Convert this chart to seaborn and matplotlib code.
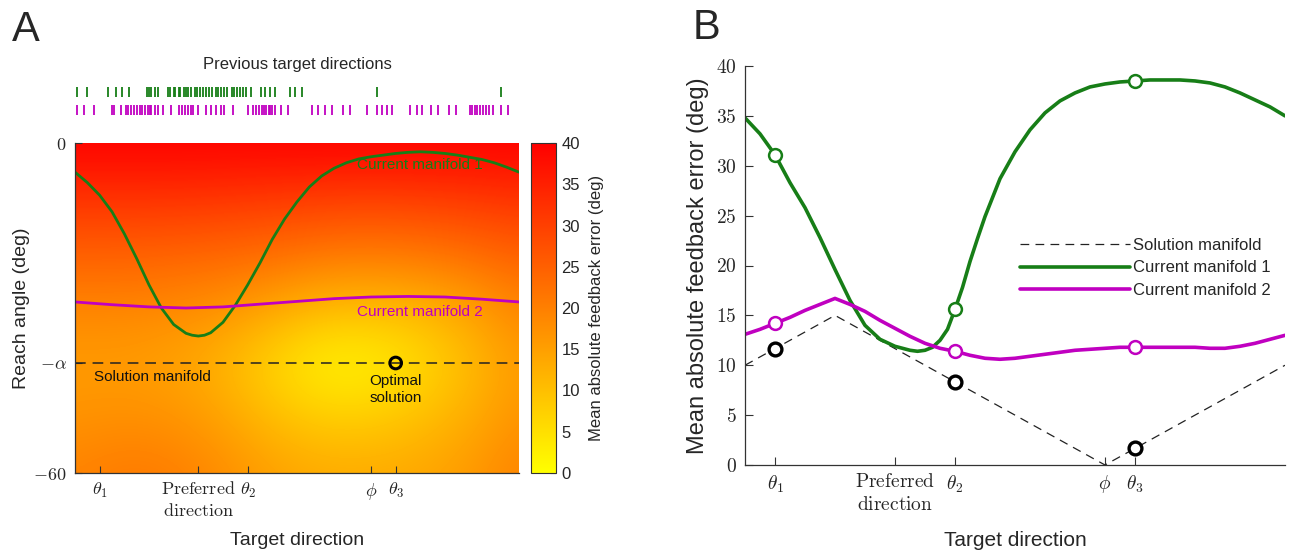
import numpy as np
import matplotlib
matplotlib.use("Agg")
import matplotlib.pyplot as plt
import seaborn as sns

# ---------------- data ----------------
# x tick positions (target direction, deg)
tick_dirs = [20, 100, 140, 240, 260]
theta1, preferred, theta2, phi, theta3 = tick_dirs
ALPHA = -40  # solution manifold reach angle

# previous target directions (raster)
prev_m1 = [2, 10, 27, 33, 38, 44, 58, 60, 62, 65, 67, 75, 77, 80, 81, 84, 85, 88, 90, 92,
           94, 97, 99, 101, 104, 106, 109, 111, 114, 116, 118, 121, 123, 127, 129, 131, 134,
           136, 139, 143, 151, 154, 158, 162, 174, 178, 184, 245, 345]
prev_m2 = [2, 7, 15, 30, 32, 37, 41, 43, 45, 48, 50, 53, 54, 57, 59, 61, 62, 65, 67, 71, 78,
           84, 87, 89, 92, 94, 96, 100, 106, 110, 114, 118, 121, 128, 140, 144, 147, 149, 152,
           153, 155, 157, 158, 160, 162, 167, 173, 192, 197, 203, 208, 217, 223, 237, 245, 249,
           253, 257, 272, 277, 281, 289, 294, 303, 309, 320, 322, 324, 326, 328, 331, 333, 336,
           339, 345, 351]

# heat map: mean absolute feedback error on a coarse grid
heat_dirs = [0, 40, 80, 120, 160, 200, 240, 280, 320, 360]
heat_reach = [0, -10, -20, -30, -40, -50, -60]
heat_values = [
    [40, 40, 40, 40, 40, 40, 40, 40, 40, 40],
    [32, 32, 32, 31.5, 31, 30.5, 30, 30.5, 31, 32],
    [25, 25, 24.5, 24, 23, 21.5, 21, 21.5, 23, 25],
    [19, 19, 18.5, 17, 14, 11, 10.5, 11.5, 14.5, 19],
    [15.5, 15.5, 14.5, 11.5, 6.5, 2, 2, 5.5, 10.5, 15.5],
    [17, 17.5, 17, 14.5, 10.5, 8, 8, 10, 13, 17],
    [19.5, 21, 20.5, 18, 15, 13.5, 13.5, 14, 16, 19.5],
]

# panel A curves (reach angle vs target direction)
dirs_A = [0, 10, 20, 30, 40, 50, 60, 70, 80, 90, 95, 100, 105, 110, 120, 130, 140, 150, 160,
          170, 180, 190, 200, 210, 220, 230, 240, 250, 260, 270, 280, 290, 300, 310, 320, 330,
          340, 350, 360]
reach_m1 = [-5.3, -7.2, -9.5, -12.5, -16.5, -21.0, -25.8, -30.0, -33.0, -34.6, -34.95, -35.1,
            -34.95, -34.5, -32.6, -29.5, -25.8, -21.8, -17.5, -13.8, -10.7, -8.0, -6.0, -4.6,
            -3.6, -2.9, -2.5, -2.2, -1.9, -1.7, -1.6, -1.7, -1.9, -2.2, -2.6, -3.0, -3.6, -4.4,
            -5.3]
dirs_A2 = [0, 30, 60, 90, 120, 150, 180, 210, 240, 270, 300, 330, 360]
reach_m2 = [-28.9, -29.4, -29.8, -30.0, -29.8, -29.3, -28.8, -28.3, -28.0, -27.9, -28.0, -28.4, -28.9]

# panel B curves (mean absolute feedback error vs target direction)
dirs_B = [0, 10, 20, 30, 40, 50, 60, 70, 80, 90, 100, 110, 115, 120, 125, 130, 135, 140, 145,
          150, 155, 160, 170, 180, 190, 200, 210, 220, 230, 240, 250, 260, 270, 280, 290, 300,
          310, 320, 330, 340, 350, 360]
err_m1 = [34.8, 33.2, 31.1, 28.3, 25.8, 22.8, 19.6, 16.5, 14.0, 12.6, 11.9, 11.5, 11.4, 11.5,
          11.8, 12.5, 13.6, 15.6, 17.8, 20.4, 22.7, 24.9, 28.7, 31.4, 33.6, 35.3, 36.5, 37.3,
          37.9, 38.2, 38.4, 38.5, 38.6, 38.6, 38.6, 38.5, 38.3, 37.9, 37.3, 36.6, 35.9, 35.0]
dirs_B2 = [0, 10, 20, 30, 40, 50, 60, 70, 80, 90, 100, 110, 120, 130, 140, 150, 160, 170, 180,
           190, 200, 210, 220, 230, 240, 250, 260, 270, 280, 290, 300, 310, 320, 330, 340, 350, 360]
err_m2 = [13.1, 13.6, 14.2, 14.8, 15.5, 16.1, 16.7, 16.1, 15.4, 14.5, 13.7, 12.9, 12.2, 11.7,
          11.4, 11.0, 10.7, 10.6, 10.7, 10.9, 11.1, 11.3, 11.5, 11.6, 11.7, 11.8, 11.8, 11.8,
          11.8, 11.8, 11.8, 11.7, 11.7, 11.9, 12.2, 12.6, 13.0]
sol_dirs = [0, 60, 240, 360]
sol_err = [10, 15, 0, 10]
marker_m1 = [31.1, 15.6, 38.5]
marker_m2 = [14.2, 11.4, 11.8]
marker_sol = [11.6, 8.3, 1.7]
marker_dirs = [theta1, theta2, theta3]

# ---------------- style ----------------
sns.set_theme(style="ticks")
plt.rcParams["font.family"] = ["Liberation Sans", "DejaVu Sans"]
plt.rcParams["mathtext.fontset"] = "cm"
plt.rcParams["axes.unicode_minus"] = True

GREEN = "#177e17"
MAGENTA = "#c000c0"
SPINE = "#333333"

W, H = 1295, 552
fig = plt.figure(figsize=(W / 100, H / 100), dpi=100)


def rect(l, t, r, b):
    return [l / W, 1 - b / H, (r - l) / W, (b - t) / H]


axA = fig.add_axes(rect(75, 143, 519, 473))
cax = fig.add_axes(rect(531, 143, 556, 473))
axR = fig.add_axes(rect(75, 83, 519, 119))
axB = fig.add_axes(rect(745, 66, 1285, 465))

xlabels = [r"$\theta_1$", r"$\mathrm{Preferred}$" + "\n" + r"$\mathrm{direction}$",
           r"$\theta_2$", r"$\phi$", r"$\theta_3$"]

# ---------------- Panel A ----------------
grid = np.array(heat_values, dtype=float)
dx = heat_dirs[1] - heat_dirs[0]
dy = abs(heat_reach[1] - heat_reach[0])
im = axA.imshow(grid, extent=[heat_dirs[0] - dx / 2, heat_dirs[-1] + dx / 2,
                              heat_reach[-1] - dy / 2, heat_reach[0] + dy / 2],
                origin="upper", cmap="autumn_r", vmin=0, vmax=40,
                interpolation="bicubic", aspect="auto")

sns.lineplot(x=dirs_A, y=reach_m1, ax=axA, color=GREEN, lw=2.0, sort=False)
sns.lineplot(x=dirs_A2, y=reach_m2, ax=axA, color=MAGENTA, lw=2.0, sort=False)
axA.axhline(ALPHA, color="#222222", lw=1.1, dashes=(7, 4.5))
sns.scatterplot(x=[theta3], y=[ALPHA], ax=axA, s=70, facecolor="none",
                edgecolor="black", linewidth=2.2, zorder=5)

axA.text(280, -4.0, "Current manifold 1", color=GREEN, fontsize=11, ha="center", va="center")
axA.text(280, -30.8, "Current manifold 2", color=MAGENTA, fontsize=11, ha="center", va="center")
axA.text(15, -42.6, "Solution manifold", color="#111111", fontsize=11, ha="left", va="center")
axA.text(theta3, -42.0, "Optimal\nsolution", color="#111111", fontsize=11, ha="center",
         va="top", linespacing=1.3)

axA.set_xlim(0, 360)
axA.set_ylim(-60, 0)
axA.set_xticks(tick_dirs)
axA.set_xticklabels(xlabels, fontsize=13, linespacing=1.35)
axA.set_yticks([0, ALPHA, -60])
axA.set_yticklabels([r"$0$", r"$-\alpha$", r"$-60$"], fontsize=13)
axA.tick_params(direction="in", length=5, width=0.8, color=SPINE, pad=6)
for side in ["top", "right"]:
    axA.spines[side].set_visible(False)
for side in ["left", "bottom"]:
    axA.spines[side].set_color(SPINE)
    axA.spines[side].set_linewidth(0.9)
axA.set_xlabel("Target direction", fontsize=14, labelpad=9)
axA.set_ylabel("Reach angle (deg)", fontsize=14, labelpad=2)

cb = fig.colorbar(im, cax=cax, orientation="vertical")
cb.set_ticks(list(range(0, 41, 5)))
cax.yaxis.set_ticks_position("right")
cax.yaxis.set_label_position("right")
cax.yaxis.set_tick_params(which="both", direction="in", length=4, width=0.8,
                          labelsize=12, color=SPINE, pad=4, left=False, right=True,
                          labelleft=False, labelright=True)
cb.outline.set_linewidth(0.8)
cb.outline.set_edgecolor(SPINE)
cb.set_label("Mean absolute feedback error (deg)", fontsize=12, labelpad=6)

# raster of previous targets
axR.eventplot([prev_m2, prev_m1], lineoffsets=[0, 1], linelengths=0.56,
              colors=[MAGENTA, GREEN], linewidths=1.3)
axR.set_xlim(0, 360)
axR.set_ylim(-0.5, 1.5)
axR.axis("off")
fig.text(297 / W, 1 - 64 / H, "Previous target directions", fontsize=12,
         ha="center", va="center")

# ---------------- Panel B ----------------
sns.lineplot(x=sol_dirs, y=sol_err, ax=axB, color="#222222", lw=0.9, dashes=False,
             label="Solution manifold", sort=False)
axB.lines[-1].set_dashes((7, 5))
sns.lineplot(x=dirs_B, y=err_m1, ax=axB, color=GREEN, lw=2.6, label="Current manifold 1", sort=False)
sns.lineplot(x=dirs_B2, y=err_m2, ax=axB, color=MAGENTA, lw=2.6, label="Current manifold 2", sort=False)
sns.scatterplot(x=marker_dirs, y=marker_m1, ax=axB, s=85, color="white", edgecolor=GREEN,
                linewidth=1.8, zorder=5)
sns.scatterplot(x=marker_dirs, y=marker_m2, ax=axB, s=85, color="white", edgecolor=MAGENTA,
                linewidth=1.8, zorder=5)
sns.scatterplot(x=marker_dirs, y=marker_sol, ax=axB, s=85, color="white", edgecolor="black",
                linewidth=2.4, zorder=5)

axB.set_xlim(0, 360)
axB.set_ylim(0, 40)
axB.set_xticks(tick_dirs)
axB.set_xticklabels(xlabels, fontsize=14, linespacing=1.35)
axB.set_yticks(list(range(0, 41, 5)))
axB.set_yticklabels([r"$%d$" % v for v in range(0, 41, 5)], fontsize=14)
axB.tick_params(direction="in", length=6, width=0.8, color=SPINE, pad=6)
sns.despine(ax=axB)
for side in ["left", "bottom"]:
    axB.spines[side].set_color(SPINE)
    axB.spines[side].set_linewidth(0.9)
axB.set_xlabel("Target direction", fontsize=15, labelpad=12)
axB.set_ylabel("Mean absolute feedback error (deg)", fontsize=17, labelpad=5)
axB.legend(loc="upper left", bbox_to_anchor=(0.497, 0.586), frameon=False, fontsize=12,
           handlelength=6.6, handletextpad=0.2, labelspacing=0.45, borderaxespad=0)

fig.text(12 / W, 1 - 30 / H, "A", fontsize=30, ha="left", va="center")
fig.text(693 / W, 1 - 28 / H, "B", fontsize=30, ha="left", va="center")

fig.savefig("out.png", dpi=100)
